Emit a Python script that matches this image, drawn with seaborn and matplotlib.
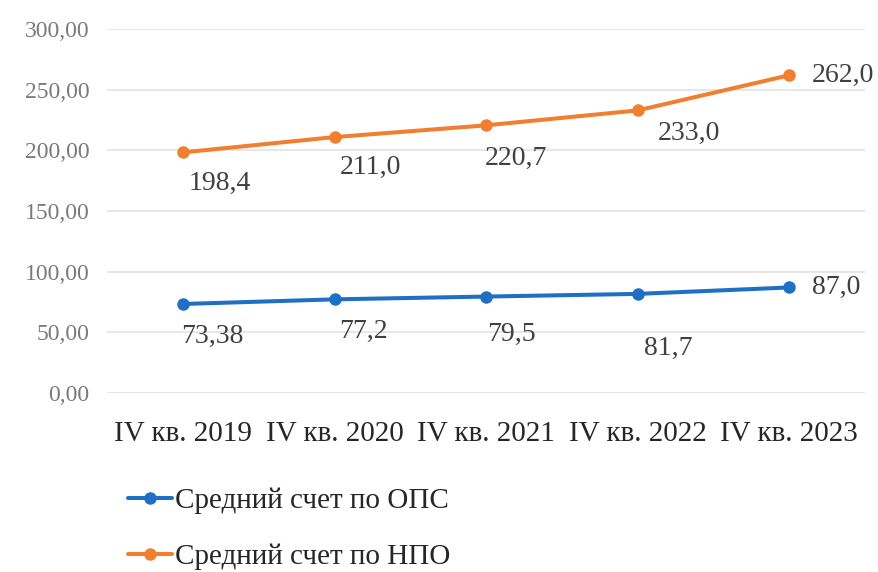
import matplotlib
matplotlib.use("Agg")
import matplotlib.pyplot as plt
import seaborn as sns
import pandas as pd

categories = ["IV кв. 2019", "IV кв. 2020", "IV кв. 2021", "IV кв. 2022", "IV кв. 2023"]
ops_values = [73.38, 77.2, 79.5, 81.7, 87.0]
npo_values = [198.4, 211.0, 220.7, 233.0, 262.0]
ops_labels = ["73,38", "77,2", "79,5", "81,7", "87,0"]
npo_labels = ["198,4", "211,0", "220,7", "233,0", "262,0"]
series_names = ["Средний счет по ОПС", "Средний счет по НПО"]
y_ticks = [0, 50, 100, 150, 200, 250, 300]
y_tick_labels = ["0,00", "50,00", "100,00", "150,00", "200,00", "250,00", "300,00"]

sns.set_theme(style="white")
plt.rcParams["font.family"] = ["Liberation Serif", "DejaVu Serif"]

df = pd.DataFrame({
    "cat": categories * 2,
    "val": ops_values + npo_values,
    "series": [series_names[0]] * 5 + [series_names[1]] * 5,
})

fig = plt.figure(figsize=(8.79, 5.72), dpi=100)
ax = fig.add_axes([0.122, 0.313, 0.862, 0.636])

palette = {series_names[0]: "#1F6FC5", series_names[1]: "#F07F2F"}
sns.lineplot(data=df, x="cat", y="val", hue="series", palette=palette,
             marker="o", markersize=9, markeredgewidth=0, linewidth=2.9,
             sort=False, ax=ax, legend=True)

ax.set_xlim(-0.5, len(categories) - 0.5)
ax.set_ylim(0, 300)
ax.set_yticks(y_ticks)
ax.set_yticklabels(y_tick_labels, fontsize=17, color="#7a7a7a")
ax.set_xticks(range(len(categories)))
ax.set_xticklabels(categories, fontsize=21, color="#262626")
ax.tick_params(axis="y", length=0, pad=13)
ax.tick_params(axis="x", length=0, pad=20)
ax.set_xlabel("")
ax.set_ylabel("")
ax.grid(axis="y", color="#e3e3e3", linewidth=1.2)
ax.set_axisbelow(True)
for s in ax.spines.values():
    s.set_visible(False)

# data labels (offsets in pixels)
npo_off = [(37, -31, "center"), (36, -30, "center"), (30, -33, "center"), (51, -23, "center"), (23, 0, "left")]
ops_off = [(29, -32, "center"), (29, -32, "center"), (25, -38, "center"), (31, -55, "center"), (23, 0, "left")]
for i, (v, lab) in enumerate(zip(npo_values, npo_labels)):
    dx, dy, ha = npo_off[i]
    ax.annotate(lab, (i, v), xytext=(dx, dy), textcoords="offset pixels",
                ha=ha, va="center", fontsize=20, color="#404040")
for i, (v, lab) in enumerate(zip(ops_values, ops_labels)):
    dx, dy, ha = ops_off[i]
    ax.annotate(lab, (i, v), xytext=(dx, dy), textcoords="offset pixels",
                ha=ha, va="center", fontsize=20, color="#404040")

handles, labels = ax.get_legend_handles_labels()
ax.get_legend().remove()
fig.legend(handles, labels, loc="upper left", bbox_to_anchor=(0.146, 0.147),
           frameon=False, fontsize=21, handlelength=1.5, handletextpad=0.1,
           labelspacing=1.0, borderaxespad=0, borderpad=0,
           labelcolor="#262626")

fig.savefig("out.png", dpi=100)
